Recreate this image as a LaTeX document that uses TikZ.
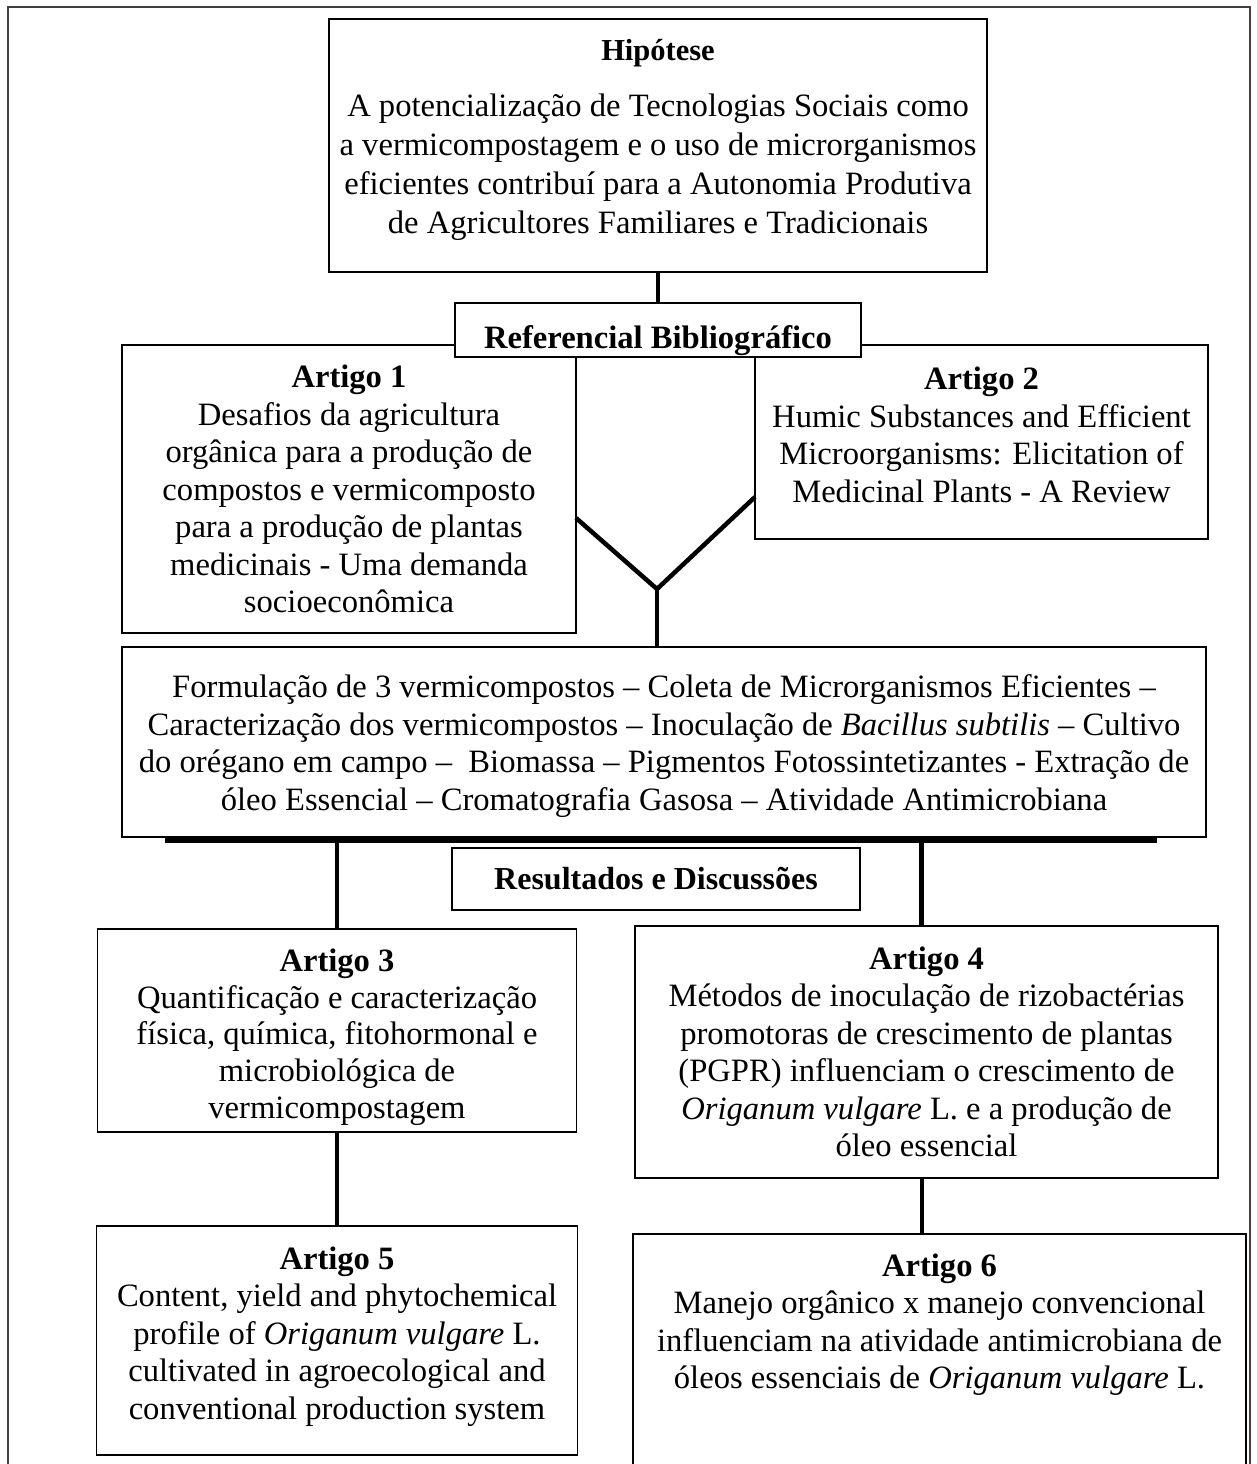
\documentclass[tikz,border=0pt]{standalone}
\usepackage{fontspec}
\setmainfont{Liberation Serif}
\usetikzlibrary{calc}
\newcommand{\bodyfont}{\fontsize{32.6bp}{37.5bp}\selectfont}
\begin{document}
\begin{tikzpicture}[x=1bp,y=-1bp,
  box/.style={draw=black, line width=1.6bp, fill=white, inner sep=0pt},
  txt/.style={inner sep=0pt, align=center, font=\bodyfont},
  conn/.style={line width=4.5bp},
  frame/.style={draw=black!75, line width=2bp}]
\useasboundingbox (0,0) rectangle (1256,1464);
\clip (0,0) rectangle (1256,1464);
% outer frame
\coordinate (fbl) at (8,1470);
\coordinate (ftl) at (8,7);
\coordinate (ftr) at (1250,7);
\coordinate (fbr) at (1250,1470);
\draw[frame] (fbl) -- (ftl) -- (ftr) -- (fbr);

% Hipotese
\node[box, minimum width=658bp, minimum height=253bp] (hip) at (658,145.5) {};
\node[txt, font=\fontsize{32.6bp}{39bp}\selectfont] (hipt) at (658,140)
  {{\fontsize{30.5bp}{34bp}\selectfont\bfseries Hipótese}\\[17bp]
   A potencialização de Tecnologias Sociais como\\
   a vermicompostagem e o uso de microrganismos\\
   eficientes contribuí para a Autonomia Produtiva\\
   de Agricultores Familiares e Tradicionais};

% Artigo 1 and 2
\node[box, minimum width=454bp, minimum height=288bp] (art1) at (349,489) {};
\node[txt] (art1t) at (349,489)
  {\textbf{Artigo 1}\\
   Desafios da agricultura\\
   orgânica para a produção de\\
   compostos e vermicomposto\\
   para a produção de plantas\\
   medicinais - Uma demanda\\
   socioeconômica};
\node[box, minimum width=453bp, minimum height=194bp] (art2) at (981.5,442) {};
\node[txt] (art2t) at (981.5,435)
  {\textbf{Artigo 2}\\
   Humic Substances and Efficient\\
   Microorganisms: Elicitation of\\
   Medicinal Plants - A Review};

% Referencial box
\node[box, minimum width=406bp, minimum height=54bp] (ref) at (658,330) {};
\begin{scope}
  \clip (ref.south west) rectangle (ref.north east);
  \node[txt, anchor=base, font=\fontsize{32.6bp}{38bp}\selectfont\bfseries] (reft) at (658,348) {Referencial Bibliográfico};
\end{scope}
\draw[conn] (hip.south) -- (ref.north);

% Y connector
\coordinate (yl) at (576,518);
\coordinate (yr) at (755,497);
\coordinate (yv) at (657,589);

% Methods box
\node[box, minimum width=1084bp, minimum height=190bp] (meth) at (664,742) {};
\node[txt] (metht) at (664,746)
  {Formulação de 3 vermicompostos – Coleta de Microrganismos Eficientes –\\
   Caracterização dos vermicompostos – Inoculação de \textit{Bacillus subtilis} – Cultivo\\
   do orégano em campo –~~Biomassa – Pigmentos Fotossintetizantes - Extração de\\
   óleo Essencial – Cromatografia Gasosa – Atividade Antimicrobiana};
\draw[conn, line join=miter] (yl) -- (yv) -- (yr);
\draw[conn] (yv) -- (yv |- meth.north);

% thick bar
\coordinate (barL) at (165,840);
\coordinate (barR) at (1157,840);
\draw[line width=6bp] (barL) -- (barR);

% Resultados
\node[box, minimum width=408bp, minimum height=62bp] (res) at (656,879) {};
\node[txt, font=\fontsize{32bp}{38bp}\selectfont\bfseries] (rest) at (656,879) {Resultados e Discussões};

% Artigo 3 and 4
\node[box, minimum width=479bp, minimum height=203bp] (art3) at (337,1030.5) {};
\node[txt, font=\fontsize{32.6bp}{36.7bp}\selectfont] (art3t) at (337,1037)
  {\textbf{Artigo 3}\\
   Quantificação e caracterização\\
   física, química, fitohormonal e\\
   microbiológica de\\
   vermicompostagem};
\node[box, minimum width=583bp, minimum height=252bp] (art4) at (926.5,1052) {};
\node[txt] (art4t) at (926.5,1052)
  {\textbf{Artigo 4}\\
   Métodos de inoculação de rizobactérias\\
   promotoras de crescimento de plantas\\
   (PGPR) influenciam o crescimento de\\
   \textit{Origanum vulgare} L. e a produção de\\
   óleo essencial};
\coordinate (b3) at (337,843);
\coordinate (b4) at (921.5,843);
\draw[conn] (b3) -- (b3 |- art3.north);
\draw[conn] (b4) -- (b4 |- art4.north);

% Artigo 5 and 6
\node[box, minimum width=481bp, minimum height=229bp] (art5) at (337,1340.5) {};
\node[txt] (art5t) at (337,1336.5)
  {\textbf{Artigo 5}\\
   Content, yield and phytochemical\\
   profile of \textit{Origanum vulgare} L.\\
   cultivated in agroecological and\\
   conventional production system};
\node[box, minimum width=613bp, minimum height=300bp] (art6) at (939.5,1384) {};
\node[txt, anchor=north] (art6t) at ([yshift=-20bp]art6.north)
  {\textbf{Artigo 6}\\
   Manejo orgânico x manejo convencional\\
   influenciam na atividade antimicrobiana de\\
   óleos essenciais de \textit{Origanum vulgare} L.};
\draw[conn] (art3.south) -- (art5.north);
\coordinate (c6) at (922,1178);
\draw[conn] (c6 |- art4.south) -- (c6 |- art6.north);
\end{tikzpicture}
\end{document}
